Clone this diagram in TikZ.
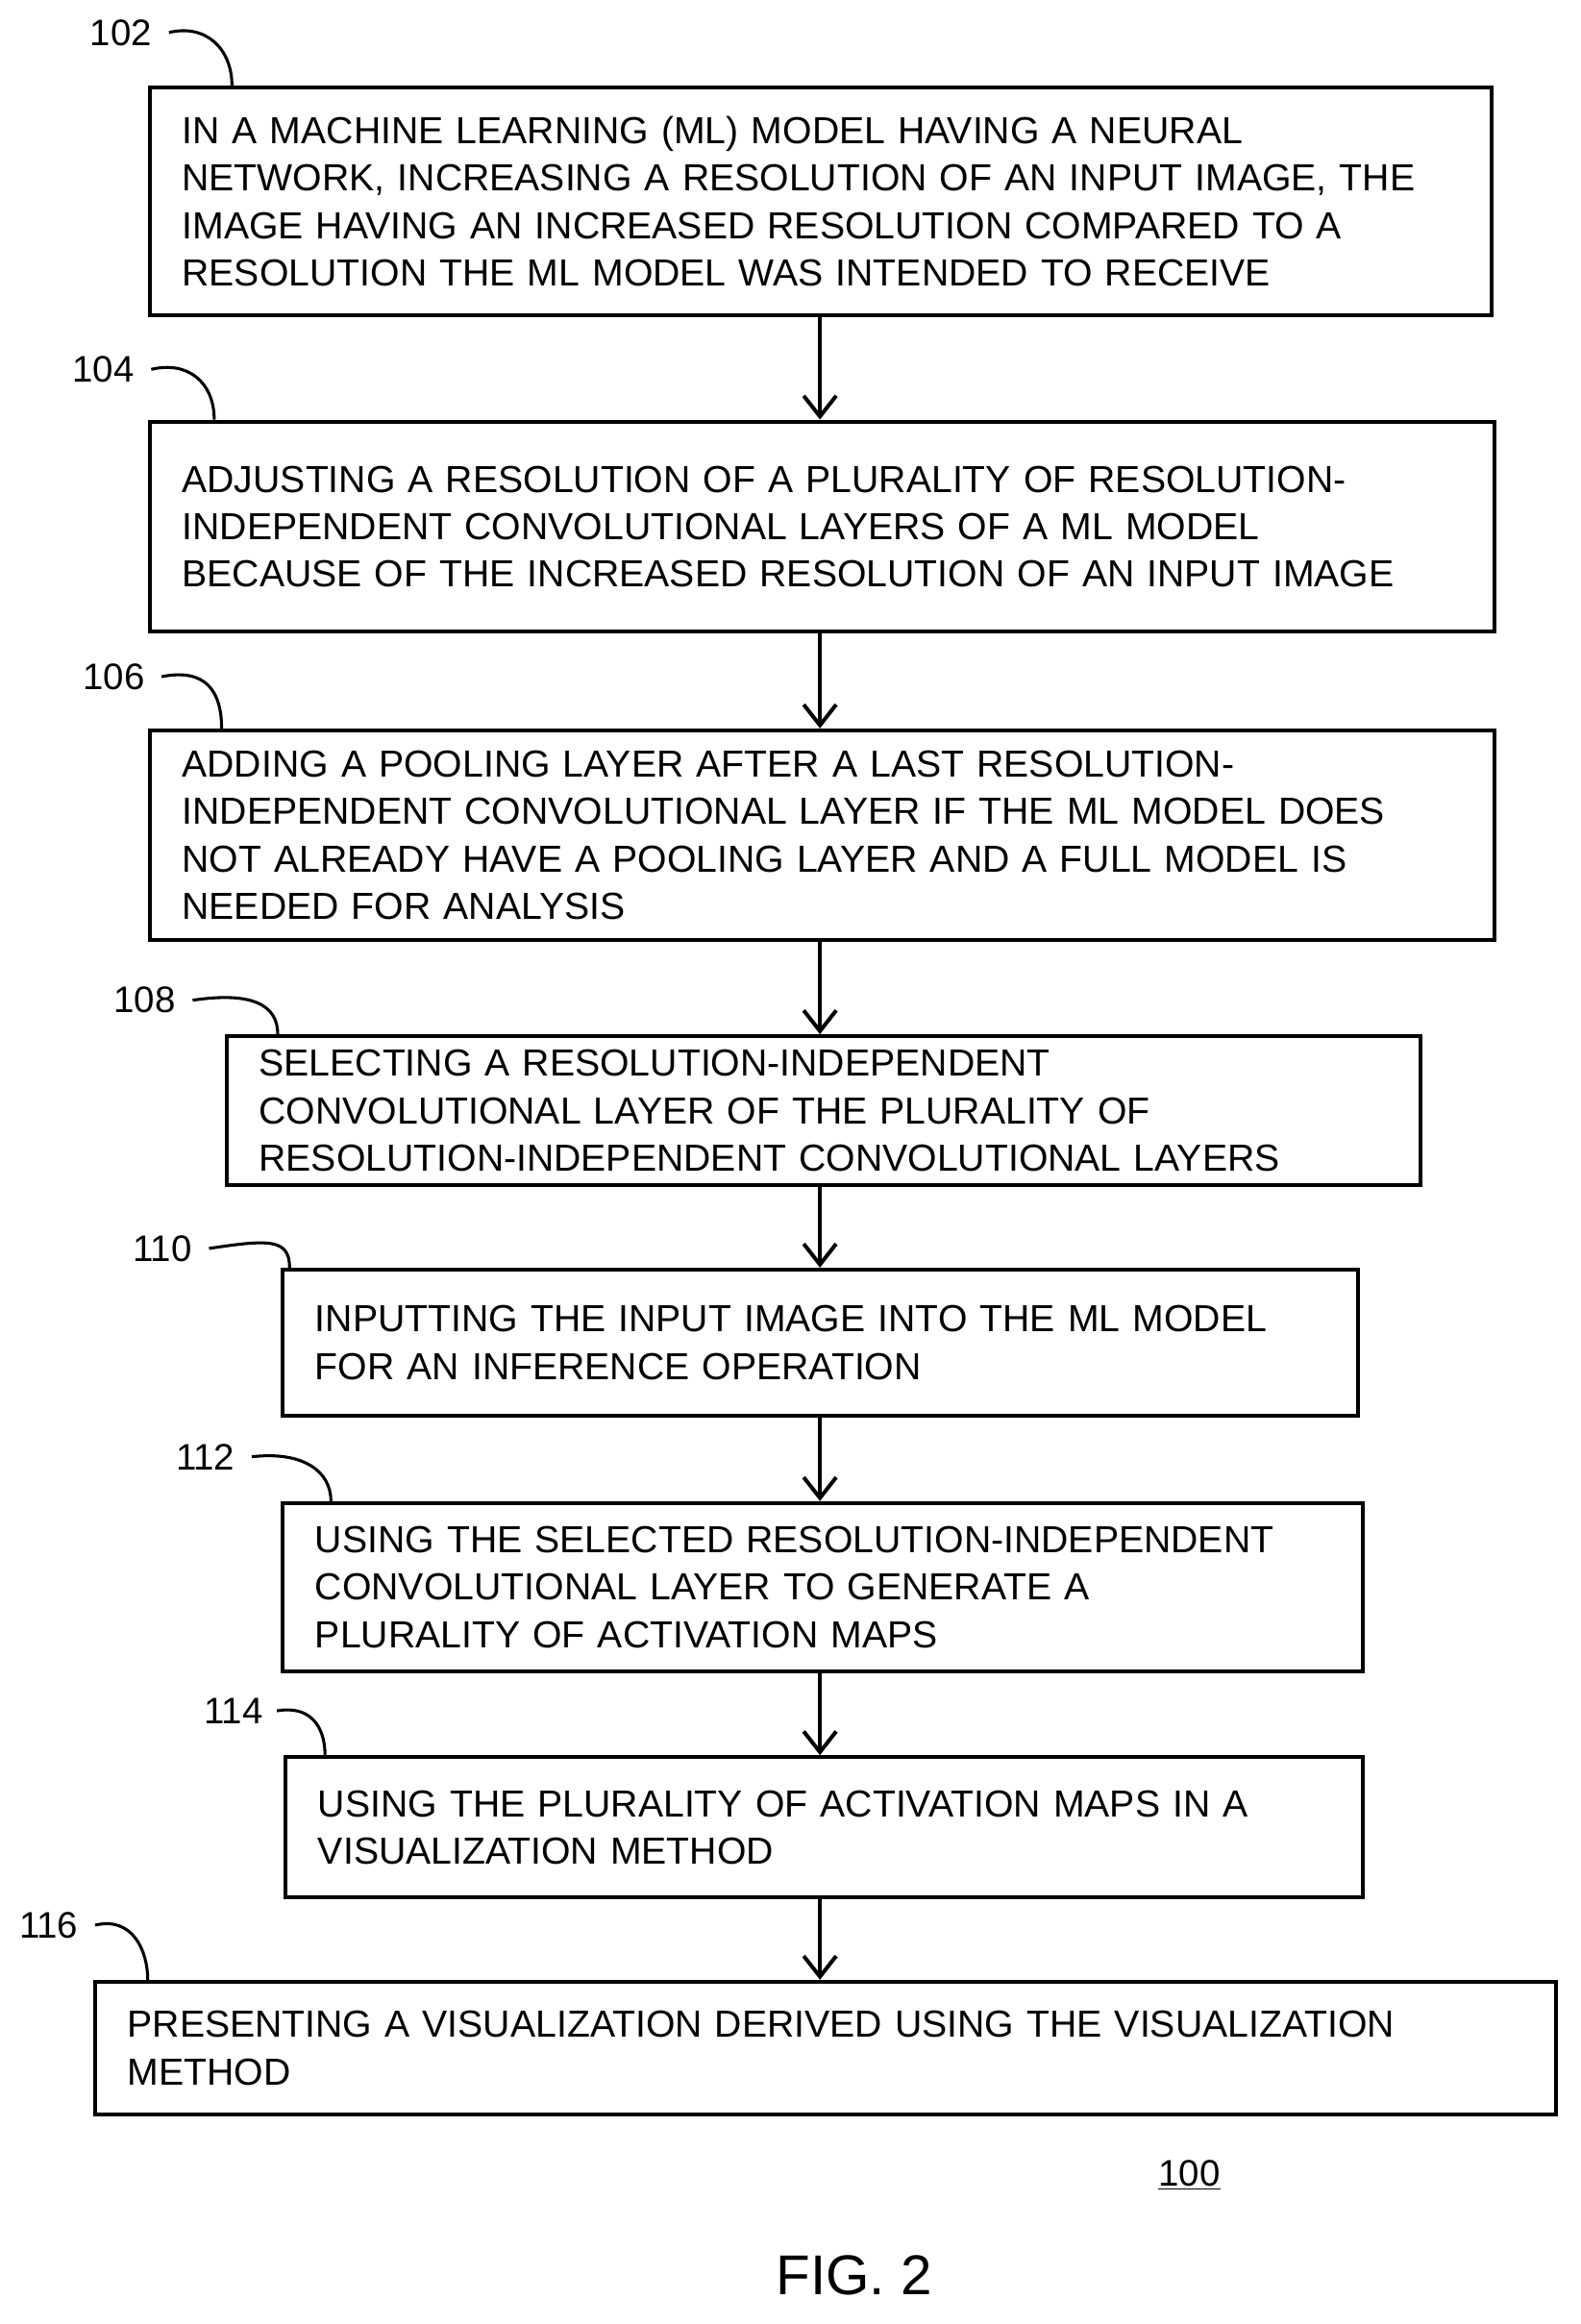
\documentclass[tikz,border=0pt]{standalone}
\usepackage{fontspec}
\setmainfont{Liberation Sans}
\usetikzlibrary{arrows.meta}
\tikzset{
  stepbox/.style={draw=black,line width=2.6pt,inner xsep=22pt,align=left,anchor=north west,
    font=\fontsize{25.5}{32}\selectfont},
  ref/.style={font=\fontsize{25}{28}\selectfont},
  hook/.style={line width=2pt},
  flow/.style={line width=2.6pt,-{Straight Barb[length=14pt,width=22pt,line width=2.6pt]}}
}
\begin{document}
\begin{tikzpicture}[x=1pt,y=-1pt]
            \useasboundingbox (0,0) rectangle (1070,1573);
            % steps
            \node[stepbox,minimum width=908pt,minimum height=154pt,text width=864pt] (s102) at (100,58) {IN A MACHINE LEARNING (ML) MODEL HAVING A NEURAL\\ NETWORK, INCREASING A RESOLUTION OF AN INPUT IMAGE, THE\\ IMAGE HAVING AN INCREASED RESOLUTION COMPARED TO A\\ RESOLUTION THE ML MODEL WAS INTENDED TO RECEIVE};
            \node[stepbox,minimum width=910pt,minimum height=142pt,text width=866pt] (s104) at (100,284) {ADJUSTING A RESOLUTION OF A PLURALITY OF RESOLUTION-\\ INDEPENDENT CONVOLUTIONAL LAYERS OF A ML MODEL\\ BECAUSE OF THE INCREASED RESOLUTION OF AN INPUT IMAGE};
            \node[stepbox,minimum width=910pt,minimum height=142pt,text width=866pt] (s106) at (100,493) {ADDING A POOLING LAYER AFTER A LAST RESOLUTION-\\ INDEPENDENT CONVOLUTIONAL LAYER IF THE ML MODEL DOES\\ NOT ALREADY HAVE A POOLING LAYER AND A FULL MODEL IS\\ NEEDED FOR ANALYSIS};
            \node[stepbox,minimum width=808pt,minimum height=101pt,text width=764pt] (s108) at (152,700) {SELECTING A RESOLUTION-INDEPENDENT\\ CONVOLUTIONAL LAYER OF THE PLURALITY OF\\ RESOLUTION-INDEPENDENT CONVOLUTIONAL LAYERS};
            \node[stepbox,minimum width=728pt,minimum height=99pt,text width=684pt] (s110) at (190,858) {INPUTTING THE INPUT IMAGE INTO THE ML MODEL\\ FOR AN INFERENCE OPERATION};
            \node[stepbox,minimum width=731pt,minimum height=114pt,text width=687pt] (s112) at (190,1016) {USING THE SELECTED RESOLUTION-INDEPENDENT\\ CONVOLUTIONAL LAYER TO GENERATE A\\ PLURALITY OF ACTIVATION MAPS};
            \node[stepbox,minimum width=729pt,minimum height=95pt,text width=685pt] (s114) at (192,1188) {USING THE PLURALITY OF ACTIVATION MAPS IN A\\ VISUALIZATION METHOD};
            \node[stepbox,minimum width=989pt,minimum height=90pt,text width=945pt] (s116) at (63,1340) {PRESENTING A VISUALIZATION DERIVED USING THE VISUALIZATION\\ METHOD};

            % reference numerals
            \node[ref] (r102) at (82,22) {102};
            \node[ref] (r104) at (70,250) {104};
            \node[ref] (r106) at (77,458) {106};
            \node[ref] (r108) at (98,677) {108};
            \node[ref] (r110) at (110,845) {110};
            \node[ref] (r112) at (139,986) {112};
            \node[ref] (r114) at (158,1158) {114};
            \node[ref] (r116) at (33,1303) {116};
            \draw[hook] ([xshift=8pt]r102.east) .. controls +(25,-6) and +(0,-25) .. ([xshift=57pt]s102.north west);
            \draw[hook] ([xshift=8pt]r104.east) .. controls +(25,-6) and +(0,-25) .. ([xshift=45pt]s104.north west);
            \draw[hook] ([xshift=8pt]r106.east) .. controls +(30,-6) and +(0,-25) .. ([xshift=50pt]s106.north west);
            \draw[hook] ([xshift=8pt]r108.east) .. controls +(40,-6) and +(0,-20) .. ([xshift=36pt]s108.north west);
            \draw[hook] ([xshift=8pt]r110.east) .. controls +(40,-6) and +(0,-20) .. ([xshift=6pt]s110.north west);
            \draw[hook] ([xshift=8pt]r112.east) .. controls +(35,-4) and +(0,-20) .. ([xshift=34pt]s112.north west);
            \draw[hook] ([xshift=6pt]r114.east) .. controls +(22,-4) and +(0,-20) .. ([xshift=28pt]s114.north west);
            \draw[hook] ([xshift=8pt]r116.east) .. controls +(25,-6) and +(0,-20) .. ([xshift=37pt]s116.north west);

            % flow
            \draw[flow] (s102.south -| 555,0) -- (s104.north -| 555,0);
            \draw[flow] (s104.south -| 555,0) -- (s106.north -| 555,0);
            \draw[flow] (s106.south -| 555,0) -- (s108.north -| 555,0);
            \draw[flow] (s108.south -| 555,0) -- (s110.north -| 555,0);
            \draw[flow] (s110.south -| 555,0) -- (s112.north -| 555,0);
            \draw[flow] (s112.south -| 555,0) -- (s114.north -| 555,0);
            \draw[flow] (s114.south -| 555,0) -- (s116.north -| 555,0);

            \node[ref] (r100) at (805,1472) {\underline{100}};
            \node[font=\fontsize{38}{44}\selectfont] (fig) at (578,1540) {FIG. 2};
        \end{tikzpicture}
\end{document}
